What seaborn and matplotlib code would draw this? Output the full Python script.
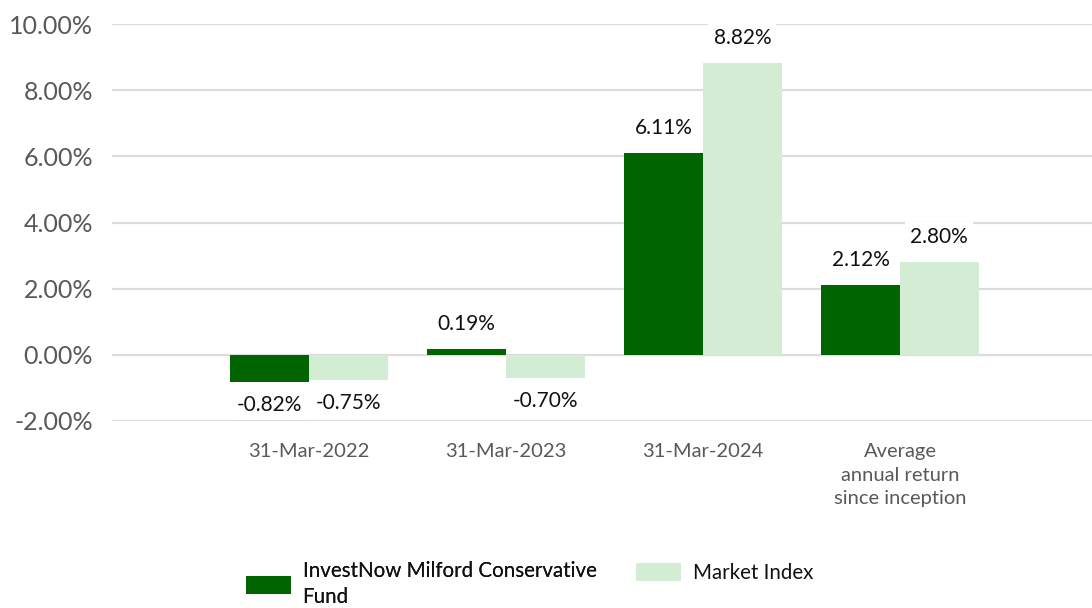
import matplotlib
matplotlib.use("Agg")
import matplotlib.pyplot as plt
import seaborn as sns
import pandas as pd
from matplotlib.patches import Patch

categories = ["31-Mar-2022", "31-Mar-2023", "31-Mar-2024",
              "Average\nannual return\nsince inception"]
fund_values = [-0.82, 0.19, 6.11, 2.12]
index_values = [-0.75, -0.70, 8.82, 2.80]
series_names = ["InvestNow Milford Conservative\nFund", "Market Index"]
yticks = [-2, 0, 2, 4, 6, 8, 10]

colors = ["#006400", "#D2EDD3"]

df = pd.DataFrame({
    "category": categories * 2,
    "value": fund_values + index_values,
    "series": [series_names[0]] * 4 + [series_names[1]] * 4,
})

sns.set_theme(style="white")
plt.rcParams["font.family"] = ["Lato", "DejaVu Sans"]

fig = plt.figure(figsize=(10.92, 6.08), dpi=100)
ax = fig.add_axes([112 / 1092, 1 - 421 / 608, 1 - 112 / 1092, (421 - 24) / 608])

sns.barplot(data=df, x="category", y="value", hue="series", palette=colors,
            order=categories, hue_order=series_names, width=0.8,
            saturation=1, ax=ax, legend=False, zorder=3, linewidth=0)

ax.set_ylim(-2, 10)
ax.set_xlim(-1.0, 3.975)
ax.set_yticks(yticks)
ax.set_yticklabels([f"{v:.2f}%" for v in yticks], fontsize=18, color="#595959")
ax.tick_params(axis="y", length=0, pad=13.5)
ax.tick_params(axis="x", length=0, pad=16, labelsize=14.5, labelcolor="#595959")
for t in ax.get_xticklabels():
    t.set_linespacing(1.45)
ax.set_xlabel("")
ax.set_ylabel("")
for s in ax.spines.values():
    s.set_visible(False)
ax.yaxis.grid(True, color="#DCDCDC", linewidth=1.6, zorder=0)
ax.set_axisbelow(True)

for container in ax.containers:
    for bar in container:
        h = bar.get_height()
        x = bar.get_x() + bar.get_width() / 2
        off = 25 if h >= 0 else -23
        ax.annotate(f"{h:.2f}%", (x, h), xytext=(0, off), textcoords="offset pixels",
                    ha="center", va="center", fontsize=15, color="#111111",
                    bbox=dict(boxstyle="square,pad=0.25", fc="white", ec="none"), zorder=4)

leg_kw = dict(frameon=False, fontsize=14.8, handlelength=2.2, handleheight=1.0,
              handletextpad=0.55, borderpad=0, borderaxespad=0, labelcolor="#111111",
              loc="upper left")
leg1 = fig.legend([Patch(facecolor=colors[0], edgecolor="none")], [series_names[0]],
                  bbox_to_anchor=(246 / 1092, 1 - 561 / 608), **leg_kw)
for t in leg1.get_texts():
    t.set_linespacing(1.4)
fig.add_artist(leg1)
leg2 = fig.legend([Patch(facecolor=colors[1], edgecolor="none")], [series_names[1]],
                  bbox_to_anchor=(636 / 1092, 1 - 563 / 608), **leg_kw)

fig.savefig("out.png", dpi=100)
